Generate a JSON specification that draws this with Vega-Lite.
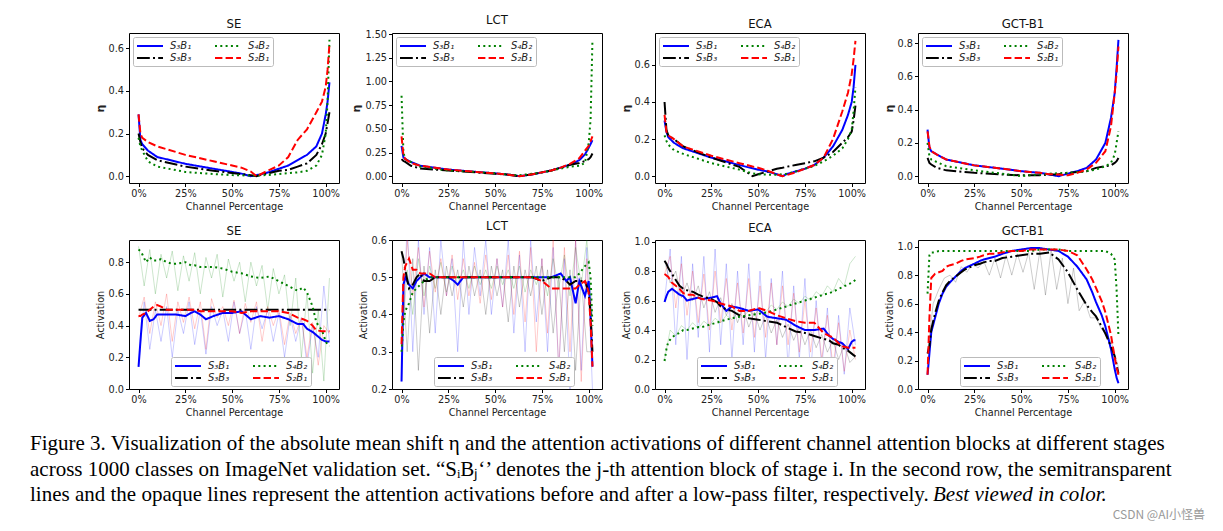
{
"$schema":"https://vega.github.io/schema/vega-lite/v6.json",
"padding":{"left":30,"top":14,"right":5,"bottom":0},
"autosize":{"type":"pad"},
"background":"white",
"config":{
 "font":"DejaVu Sans",
 "view":{"stroke":"#000","strokeWidth":1},
 "axis":{"grid":false,"domain":false,"tickColor":"#000","tickSize":3.5,"labelFontSize":9.7,"labelColor":"#222","titleFontSize":9.7,"titleFontWeight":"normal","titleColor":"#222","labelPadding":2,"titlePadding":3},
 "title":{"fontSize":11.7,"fontWeight":"normal","offset":2,"color":"#111"},
 "legend":{"symbolType":"M-2.6,0L2.6,0","symbolStrokeWidth":2,"symbolSize":100,"symbolOffset":8,"symbolOpacity":1,"labelOffset":14,"labelFontSize":10,"labelFontStyle":"italic","labelColor":"#222","columns":2,"columnPadding":19,"rowPadding":1,"padding":3,"strokeColor":"#bbb","strokeWidth":1,"fillColor":"#fff","cornerRadius":2,"offset":4}
},
"datasets":{
"r1":[
{"p":"SE","x":0,"a":0.29,"b":0.2,"c":0.18,"d":0.29},
{"p":"SE","x":1,"a":0.17,"b":0.16,"c":0.14,"d":0.2},
{"p":"SE","x":2,"a":0.15,"b":0.13,"c":0.12,"d":0.18},
{"p":"SE","x":5,"a":0.12,"b":0.1,"c":0.07,"d":0.16},
{"p":"SE","x":10,"a":0.09,"b":0.075,"c":0.045,"d":0.14},
{"p":"SE","x":25,"a":0.058,"b":0.045,"c":0.02,"d":0.1},
{"p":"SE","x":40,"a":0.035,"b":0.025,"c":0.01,"d":0.07},
{"p":"SE","x":50,"a":0.02,"b":0.015,"c":0.005,"d":0.05},
{"p":"SE","x":55,"a":0.012,"b":0.01,"c":0.004,"d":0.04},
{"p":"SE","x":60,"a":0,"b":0.004,"c":0.003,"d":0.022},
{"p":"SE","x":63,"a":0.005,"b":0,"c":0.003,"d":0},
{"p":"SE","x":65,"a":0.008,"b":0.005,"c":0.004,"d":0.008},
{"p":"SE","x":70,"a":0.02,"b":0.015,"c":0.006,"d":0.03},
{"p":"SE","x":75,"a":0.035,"b":0.025,"c":0.01,"d":0.05},
{"p":"SE","x":80,"a":0.05,"b":0.03,"c":0.014,"d":0.09},
{"p":"SE","x":85,"a":0.075,"b":0.045,"c":0.018,"d":0.17},
{"p":"SE","x":90,"a":0.1,"b":0.06,"c":0.025,"d":0.22},
{"p":"SE","x":95,"a":0.14,"b":0.1,"c":0.05,"d":0.3},
{"p":"SE","x":98,"a":0.2,"b":0.15,"c":0.1,"d":0.35},
{"p":"SE","x":100,"a":0.29,"b":0.2,"c":0.2,"d":0.42},
{"p":"SE","x":101,"a":0.35,"b":0.25,"c":0.35,"d":0.5},
{"p":"SE","x":102,"a":0.44,"b":0.3,"c":0.64,"d":0.62},
{"p":"LCT","x":0,"a":0.32,"b":0.18,"c":0.85,"d":0.42},
{"p":"LCT","x":1,"a":0.2,"b":0.16,"c":0.25,"d":0.22},
{"p":"LCT","x":2,"a":0.18,"b":0.15,"c":0.18,"d":0.18},
{"p":"LCT","x":5,"a":0.15,"b":0.11,"c":0.15,"d":0.14},
{"p":"LCT","x":10,"a":0.11,"b":0.08,"c":0.1,"d":0.11},
{"p":"LCT","x":25,"a":0.07,"b":0.06,"c":0.06,"d":0.07},
{"p":"LCT","x":40,"a":0.045,"b":0.04,"c":0.045,"d":0.045},
{"p":"LCT","x":50,"a":0.03,"b":0.025,"c":0.03,"d":0.03},
{"p":"LCT","x":55,"a":0.02,"b":0.02,"c":0.02,"d":0.02},
{"p":"LCT","x":60,"a":0.01,"b":0.008,"c":0.012,"d":0.008},
{"p":"LCT","x":63,"a":0,"b":0,"c":0.01,"d":0},
{"p":"LCT","x":65,"a":0.005,"b":0.005,"c":0.015,"d":0.005},
{"p":"LCT","x":70,"a":0.02,"b":0.02,"c":0.025,"d":0.02},
{"p":"LCT","x":75,"a":0.04,"b":0.04,"c":0.04,"d":0.04},
{"p":"LCT","x":80,"a":0.06,"b":0.06,"c":0.06,"d":0.06},
{"p":"LCT","x":85,"a":0.09,"b":0.09,"c":0.08,"d":0.09},
{"p":"LCT","x":90,"a":0.12,"b":0.12,"c":0.1,"d":0.13},
{"p":"LCT","x":95,"a":0.17,"b":0.14,"c":0.11,"d":0.19},
{"p":"LCT","x":98,"a":0.23,"b":0.16,"c":0.14,"d":0.27},
{"p":"LCT","x":100,"a":0.3,"b":0.18,"c":0.35,"d":0.32},
{"p":"LCT","x":101,"a":0.34,"b":0.2,"c":0.6,"d":0.37},
{"p":"LCT","x":102,"a":0.38,"b":0.24,"c":1.44,"d":0.42},
{"p":"ECA","x":0,"a":0.3,"b":0.4,"c":0.22,"d":0.33},
{"p":"ECA","x":1,"a":0.24,"b":0.25,"c":0.19,"d":0.24},
{"p":"ECA","x":2,"a":0.21,"b":0.22,"c":0.17,"d":0.22},
{"p":"ECA","x":5,"a":0.18,"b":0.2,"c":0.14,"d":0.2},
{"p":"ECA","x":10,"a":0.15,"b":0.16,"c":0.12,"d":0.16},
{"p":"ECA","x":25,"a":0.1,"b":0.1,"c":0.07,"d":0.11},
{"p":"ECA","x":40,"a":0.06,"b":0.05,"c":0.035,"d":0.07},
{"p":"ECA","x":47,"a":0.042,"b":0.0,"c":0.015,"d":0.052},
{"p":"ECA","x":50,"a":0.035,"b":0.01,"c":0.01,"d":0.045},
{"p":"ECA","x":55,"a":0.025,"b":0.025,"c":0.008,"d":0.03},
{"p":"ECA","x":60,"a":0.01,"b":0.04,"c":0.008,"d":0.01},
{"p":"ECA","x":63,"a":0,"b":0.045,"c":0.01,"d":0},
{"p":"ECA","x":65,"a":0.01,"b":0.05,"c":0.012,"d":0.005},
{"p":"ECA","x":70,"a":0.025,"b":0.06,"c":0.025,"d":0.02},
{"p":"ECA","x":75,"a":0.04,"b":0.07,"c":0.04,"d":0.04},
{"p":"ECA","x":80,"a":0.06,"b":0.08,"c":0.055,"d":0.06},
{"p":"ECA","x":85,"a":0.1,"b":0.1,"c":0.08,"d":0.1},
{"p":"ECA","x":90,"a":0.16,"b":0.13,"c":0.11,"d":0.2},
{"p":"ECA","x":95,"a":0.25,"b":0.18,"c":0.15,"d":0.35},
{"p":"ECA","x":98,"a":0.33,"b":0.21,"c":0.2,"d":0.45},
{"p":"ECA","x":100,"a":0.4,"b":0.24,"c":0.25,"d":0.55},
{"p":"ECA","x":101,"a":0.48,"b":0.3,"c":0.35,"d":0.63},
{"p":"ECA","x":102,"a":0.6,"b":0.38,"c":0.48,"d":0.73},
{"p":"GCT","x":0,"a":0.28,"b":0.11,"c":0.2,"d":0.27},
{"p":"GCT","x":1,"a":0.17,"b":0.08,"c":0.12,"d":0.18},
{"p":"GCT","x":2,"a":0.15,"b":0.07,"c":0.1,"d":0.15},
{"p":"GCT","x":5,"a":0.13,"b":0.05,"c":0.085,"d":0.13},
{"p":"GCT","x":10,"a":0.1,"b":0.035,"c":0.06,"d":0.1},
{"p":"GCT","x":25,"a":0.065,"b":0.02,"c":0.035,"d":0.065},
{"p":"GCT","x":40,"a":0.045,"b":0.01,"c":0.015,"d":0.045},
{"p":"GCT","x":50,"a":0.03,"b":0.005,"c":0,"d":0.03},
{"p":"GCT","x":55,"a":0.025,"b":0.005,"c":0.005,"d":0.025},
{"p":"GCT","x":60,"a":0.02,"b":0.006,"c":0.01,"d":0.02},
{"p":"GCT","x":63,"a":0.015,"b":0.008,"c":0.012,"d":0.015},
{"p":"GCT","x":65,"a":0.01,"b":0.01,"c":0.015,"d":0.012},
{"p":"GCT","x":70,"a":0,"b":0.012,"c":0.018,"d":0.01},
{"p":"GCT","x":75,"a":0.015,"b":0.02,"c":0.02,"d":0.005},
{"p":"GCT","x":80,"a":0.03,"b":0.025,"c":0.025,"d":0.02},
{"p":"GCT","x":85,"a":0.05,"b":0.03,"c":0.03,"d":0.04},
{"p":"GCT","x":90,"a":0.1,"b":0.05,"c":0.04,"d":0.08},
{"p":"GCT","x":95,"a":0.2,"b":0.06,"c":0.06,"d":0.15},
{"p":"GCT","x":98,"a":0.35,"b":0.065,"c":0.08,"d":0.3},
{"p":"GCT","x":100,"a":0.5,"b":0.08,"c":0.13,"d":0.5},
{"p":"GCT","x":101,"a":0.65,"b":0.09,"c":0.2,"d":0.62},
{"p":"GCT","x":102,"a":0.82,"b":0.11,"c":0.27,"d":0.78}
],
"r2":[
{"p":"SE","x":0,"a":0.14,"b":0.5,"c":0.88,"d":0.46},
{"p":"SE","x":1,"a":0.3,"b":0.5,"c":0.87,"d":0.46},
{"p":"SE","x":2,"a":0.45,"b":0.5,"c":0.85,"d":0.47},
{"p":"SE","x":4,"a":0.48,"b":0.5,"c":0.8,"d":0.48},
{"p":"SE","x":6,"a":0.43,"b":0.5,"c":0.83,"d":0.5},
{"p":"SE","x":8,"a":0.44,"b":0.5,"c":0.81,"d":0.52},
{"p":"SE","x":10,"a":0.47,"b":0.5,"c":0.81,"d":0.53},
{"p":"SE","x":12,"a":0.47,"b":0.5,"c":0.82,"d":0.52},
{"p":"SE","x":15,"a":0.47,"b":0.5,"c":0.8,"d":0.5},
{"p":"SE","x":18,"a":0.47,"b":0.5,"c":0.79,"d":0.5},
{"p":"SE","x":20,"a":0.47,"b":0.5,"c":0.79,"d":0.5},
{"p":"SE","x":25,"a":0.46,"b":0.5,"c":0.8,"d":0.5},
{"p":"SE","x":28,"a":0.48,"b":0.5,"c":0.78,"d":0.5},
{"p":"SE","x":30,"a":0.49,"b":0.5,"c":0.78,"d":0.5},
{"p":"SE","x":33,"a":0.47,"b":0.5,"c":0.77,"d":0.49},
{"p":"SE","x":36,"a":0.44,"b":0.5,"c":0.77,"d":0.49},
{"p":"SE","x":40,"a":0.46,"b":0.5,"c":0.77,"d":0.49},
{"p":"SE","x":45,"a":0.48,"b":0.5,"c":0.76,"d":0.49},
{"p":"SE","x":50,"a":0.48,"b":0.5,"c":0.74,"d":0.49},
{"p":"SE","x":55,"a":0.49,"b":0.5,"c":0.73,"d":0.48},
{"p":"SE","x":60,"a":0.44,"b":0.5,"c":0.71,"d":0.49},
{"p":"SE","x":65,"a":0.46,"b":0.5,"c":0.7,"d":0.49},
{"p":"SE","x":70,"a":0.45,"b":0.5,"c":0.71,"d":0.49},
{"p":"SE","x":75,"a":0.46,"b":0.5,"c":0.68,"d":0.49},
{"p":"SE","x":80,"a":0.44,"b":0.5,"c":0.65,"d":0.48},
{"p":"SE","x":85,"a":0.41,"b":0.5,"c":0.62,"d":0.45},
{"p":"SE","x":88,"a":0.41,"b":0.5,"c":0.64,"d":0.44},
{"p":"SE","x":90,"a":0.38,"b":0.5,"c":0.61,"d":0.43},
{"p":"SE","x":93,"a":0.36,"b":0.5,"c":0.52,"d":0.4},
{"p":"SE","x":95,"a":0.34,"b":0.5,"c":0.42,"d":0.37},
{"p":"SE","x":98,"a":0.31,"b":0.5,"c":0.37,"d":0.365},
{"p":"SE","x":100,"a":0.3,"b":0.5,"c":0.3,"d":0.365},
{"p":"SE","x":101,"a":0.3,"b":0.5,"c":0.28,"d":0.365},
{"p":"SE","x":102,"a":0.3,"b":0.5,"c":0.27,"d":0.365},
{"p":"LCT","x":0,"a":0.22,"b":0.57,"c":0.3,"d":0.32},
{"p":"LCT","x":1,"a":0.48,"b":0.55,"c":0.38,"d":0.5},
{"p":"LCT","x":2,"a":0.5,"b":0.52,"c":0.41,"d":0.53},
{"p":"LCT","x":4,"a":0.48,"b":0.47,"c":0.43,"d":0.55},
{"p":"LCT","x":6,"a":0.47,"b":0.48,"c":0.46,"d":0.52},
{"p":"LCT","x":8,"a":0.49,"b":0.5,"c":0.47,"d":0.52},
{"p":"LCT","x":10,"a":0.5,"b":0.51,"c":0.48,"d":0.51},
{"p":"LCT","x":12,"a":0.51,"b":0.49,"c":0.49,"d":0.51},
{"p":"LCT","x":15,"a":0.5,"b":0.49,"c":0.5,"d":0.51},
{"p":"LCT","x":18,"a":0.5,"b":0.5,"c":0.5,"d":0.5},
{"p":"LCT","x":20,"a":0.5,"b":0.5,"c":0.5,"d":0.5},
{"p":"LCT","x":25,"a":0.5,"b":0.5,"c":0.5,"d":0.5},
{"p":"LCT","x":28,"a":0.49,"b":0.5,"c":0.5,"d":0.5},
{"p":"LCT","x":30,"a":0.48,"b":0.5,"c":0.5,"d":0.5},
{"p":"LCT","x":33,"a":0.5,"b":0.5,"c":0.5,"d":0.5},
{"p":"LCT","x":36,"a":0.5,"b":0.5,"c":0.5,"d":0.5},
{"p":"LCT","x":40,"a":0.5,"b":0.5,"c":0.5,"d":0.5},
{"p":"LCT","x":45,"a":0.5,"b":0.5,"c":0.5,"d":0.5},
{"p":"LCT","x":50,"a":0.5,"b":0.5,"c":0.5,"d":0.5},
{"p":"LCT","x":55,"a":0.5,"b":0.5,"c":0.5,"d":0.5},
{"p":"LCT","x":60,"a":0.5,"b":0.5,"c":0.5,"d":0.5},
{"p":"LCT","x":65,"a":0.5,"b":0.5,"c":0.5,"d":0.5},
{"p":"LCT","x":70,"a":0.5,"b":0.5,"c":0.5,"d":0.5},
{"p":"LCT","x":75,"a":0.5,"b":0.49,"c":0.5,"d":0.49},
{"p":"LCT","x":80,"a":0.5,"b":0.5,"c":0.5,"d":0.47},
{"p":"LCT","x":85,"a":0.51,"b":0.5,"c":0.5,"d":0.47},
{"p":"LCT","x":88,"a":0.49,"b":0.49,"c":0.5,"d":0.47},
{"p":"LCT","x":90,"a":0.5,"b":0.48,"c":0.5,"d":0.47},
{"p":"LCT","x":93,"a":0.43,"b":0.49,"c":0.5,"d":0.47},
{"p":"LCT","x":95,"a":0.49,"b":0.49,"c":0.51,"d":0.48},
{"p":"LCT","x":98,"a":0.45,"b":0.49,"c":0.53,"d":0.49},
{"p":"LCT","x":100,"a":0.49,"b":0.46,"c":0.54,"d":0.46},
{"p":"LCT","x":101,"a":0.4,"b":0.4,"c":0.5,"d":0.38},
{"p":"LCT","x":102,"a":0.26,"b":0.3,"c":0.37,"d":0.26},
{"p":"ECA","x":0,"a":0.59,"b":0.87,"c":0.19,"d":0.78},
{"p":"ECA","x":1,"a":0.63,"b":0.85,"c":0.27,"d":0.77},
{"p":"ECA","x":2,"a":0.66,"b":0.82,"c":0.32,"d":0.76},
{"p":"ECA","x":4,"a":0.68,"b":0.78,"c":0.35,"d":0.72},
{"p":"ECA","x":6,"a":0.66,"b":0.74,"c":0.37,"d":0.7},
{"p":"ECA","x":8,"a":0.64,"b":0.7,"c":0.38,"d":0.68},
{"p":"ECA","x":10,"a":0.63,"b":0.68,"c":0.4,"d":0.65},
{"p":"ECA","x":12,"a":0.6,"b":0.67,"c":0.4,"d":0.64},
{"p":"ECA","x":15,"a":0.61,"b":0.66,"c":0.41,"d":0.64},
{"p":"ECA","x":18,"a":0.62,"b":0.64,"c":0.42,"d":0.62},
{"p":"ECA","x":20,"a":0.61,"b":0.63,"c":0.42,"d":0.61},
{"p":"ECA","x":25,"a":0.62,"b":0.61,"c":0.44,"d":0.6},
{"p":"ECA","x":28,"a":0.63,"b":0.59,"c":0.45,"d":0.59},
{"p":"ECA","x":30,"a":0.58,"b":0.56,"c":0.46,"d":0.58},
{"p":"ECA","x":33,"a":0.53,"b":0.54,"c":0.47,"d":0.57},
{"p":"ECA","x":36,"a":0.56,"b":0.53,"c":0.48,"d":0.56},
{"p":"ECA","x":40,"a":0.55,"b":0.5,"c":0.49,"d":0.53},
{"p":"ECA","x":45,"a":0.53,"b":0.48,"c":0.5,"d":0.53},
{"p":"ECA","x":50,"a":0.54,"b":0.47,"c":0.51,"d":0.55},
{"p":"ECA","x":55,"a":0.49,"b":0.46,"c":0.52,"d":0.53},
{"p":"ECA","x":60,"a":0.48,"b":0.45,"c":0.54,"d":0.5},
{"p":"ECA","x":65,"a":0.47,"b":0.42,"c":0.56,"d":0.48},
{"p":"ECA","x":70,"a":0.43,"b":0.39,"c":0.58,"d":0.46},
{"p":"ECA","x":75,"a":0.4,"b":0.38,"c":0.6,"d":0.45},
{"p":"ECA","x":80,"a":0.4,"b":0.36,"c":0.62,"d":0.45},
{"p":"ECA","x":85,"a":0.41,"b":0.34,"c":0.64,"d":0.38},
{"p":"ECA","x":88,"a":0.36,"b":0.33,"c":0.65,"d":0.36},
{"p":"ECA","x":90,"a":0.34,"b":0.31,"c":0.66,"d":0.35},
{"p":"ECA","x":93,"a":0.32,"b":0.3,"c":0.68,"d":0.31},
{"p":"ECA","x":95,"a":0.31,"b":0.28,"c":0.69,"d":0.29},
{"p":"ECA","x":98,"a":0.27,"b":0.26,"c":0.71,"d":0.28},
{"p":"ECA","x":100,"a":0.32,"b":0.24,"c":0.72,"d":0.28},
{"p":"ECA","x":101,"a":0.33,"b":0.23,"c":0.73,"d":0.28},
{"p":"ECA","x":102,"a":0.33,"b":0.22,"c":0.74,"d":0.28},
{"p":"GCT","x":0,"a":0.1,"b":0.25,"c":0.67,"d":0.1},
{"p":"GCT","x":1,"a":0.25,"b":0.3,"c":0.94,"d":0.5},
{"p":"GCT","x":2,"a":0.4,"b":0.42,"c":0.96,"d":0.78},
{"p":"GCT","x":4,"a":0.5,"b":0.53,"c":0.96,"d":0.81},
{"p":"GCT","x":6,"a":0.6,"b":0.62,"c":0.97,"d":0.82},
{"p":"GCT","x":8,"a":0.67,"b":0.68,"c":0.97,"d":0.83},
{"p":"GCT","x":10,"a":0.72,"b":0.73,"c":0.97,"d":0.86},
{"p":"GCT","x":12,"a":0.75,"b":0.76,"c":0.97,"d":0.87},
{"p":"GCT","x":15,"a":0.79,"b":0.79,"c":0.97,"d":0.88},
{"p":"GCT","x":18,"a":0.83,"b":0.82,"c":0.97,"d":0.9},
{"p":"GCT","x":20,"a":0.85,"b":0.84,"c":0.97,"d":0.91},
{"p":"GCT","x":25,"a":0.88,"b":0.87,"c":0.97,"d":0.92},
{"p":"GCT","x":28,"a":0.9,"b":0.88,"c":0.97,"d":0.93},
{"p":"GCT","x":30,"a":0.91,"b":0.89,"c":0.97,"d":0.94},
{"p":"GCT","x":33,"a":0.92,"b":0.9,"c":0.97,"d":0.95},
{"p":"GCT","x":36,"a":0.93,"b":0.9,"c":0.97,"d":0.95},
{"p":"GCT","x":40,"a":0.95,"b":0.92,"c":0.97,"d":0.96},
{"p":"GCT","x":45,"a":0.97,"b":0.93,"c":0.97,"d":0.97},
{"p":"GCT","x":50,"a":0.98,"b":0.94,"c":0.97,"d":0.97},
{"p":"GCT","x":55,"a":0.99,"b":0.95,"c":0.97,"d":0.98},
{"p":"GCT","x":60,"a":0.99,"b":0.95,"c":0.98,"d":0.98},
{"p":"GCT","x":65,"a":0.98,"b":0.96,"c":0.98,"d":0.98},
{"p":"GCT","x":70,"a":0.97,"b":0.91,"c":0.98,"d":0.98},
{"p":"GCT","x":75,"a":0.93,"b":0.82,"c":0.97,"d":0.97},
{"p":"GCT","x":80,"a":0.86,"b":0.7,"c":0.97,"d":0.94},
{"p":"GCT","x":85,"a":0.77,"b":0.59,"c":0.97,"d":0.84},
{"p":"GCT","x":88,"a":0.68,"b":0.54,"c":0.97,"d":0.77},
{"p":"GCT","x":90,"a":0.61,"b":0.51,"c":0.97,"d":0.71},
{"p":"GCT","x":93,"a":0.52,"b":0.44,"c":0.97,"d":0.62},
{"p":"GCT","x":95,"a":0.44,"b":0.39,"c":0.97,"d":0.54},
{"p":"GCT","x":98,"a":0.28,"b":0.3,"c":0.95,"d":0.38},
{"p":"GCT","x":100,"a":0.14,"b":0.23,"c":0.91,"d":0.22},
{"p":"GCT","x":101,"a":0.08,"b":0.17,"c":0.7,"d":0.15},
{"p":"GCT","x":102,"a":0.04,"b":0.11,"c":0.37,"d":0.1}
],
"raw":[
{"p":"SE","x":0,"a":0.14,"c":0.9,"d":0.45},
{"p":"SE","x":3,"a":0.55,"c":0.65,"d":0.58},
{"p":"SE","x":6,"a":0.25,"c":0.88,"d":0.35},
{"p":"SE","x":9,"a":0.5,"c":0.6,"d":0.55},
{"p":"SE","x":12,"a":0.3,"c":0.85,"d":0.4},
{"p":"SE","x":15,"a":0.52,"c":0.7,"d":0.6},
{"p":"SE","x":18,"a":0.2,"c":0.87,"d":0.3},
{"p":"SE","x":21,"a":0.5,"c":0.62,"d":0.55},
{"p":"SE","x":24,"a":0.35,"c":0.84,"d":0.42},
{"p":"SE","x":27,"a":0.55,"c":0.68,"d":0.58},
{"p":"SE","x":30,"a":0.28,"c":0.86,"d":0.38},
{"p":"SE","x":33,"a":0.5,"c":0.6,"d":0.55},
{"p":"SE","x":36,"a":0.22,"c":0.83,"d":0.25},
{"p":"SE","x":39,"a":0.52,"c":0.7,"d":0.57},
{"p":"SE","x":42,"a":0.4,"c":0.85,"d":0.45},
{"p":"SE","x":45,"a":0.5,"c":0.58,"d":0.52},
{"p":"SE","x":48,"a":0.3,"c":0.82,"d":0.4},
{"p":"SE","x":51,"a":0.55,"c":0.68,"d":0.56},
{"p":"SE","x":54,"a":0.35,"c":0.8,"d":0.35},
{"p":"SE","x":57,"a":0.5,"c":0.55,"d":0.54},
{"p":"SE","x":60,"a":0.25,"c":0.8,"d":0.42},
{"p":"SE","x":63,"a":0.52,"c":0.65,"d":0.55},
{"p":"SE","x":66,"a":0.38,"c":0.78,"d":0.3},
{"p":"SE","x":69,"a":0.5,"c":0.5,"d":0.52},
{"p":"SE","x":72,"a":0.3,"c":0.76,"d":0.4},
{"p":"SE","x":75,"a":0.48,"c":0.6,"d":0.5},
{"p":"SE","x":78,"a":0.2,"c":0.72,"d":0.28},
{"p":"SE","x":81,"a":0.46,"c":0.4,"d":0.48},
{"p":"SE","x":84,"a":0.3,"c":0.7,"d":0.35},
{"p":"SE","x":87,"a":0.45,"c":0.2,"d":0.45},
{"p":"SE","x":90,"a":0.15,"c":0.6,"d":0.2},
{"p":"SE","x":93,"a":0.4,"c":0.1,"d":0.42},
{"p":"SE","x":96,"a":0.2,"c":0.5,"d":0.15},
{"p":"SE","x":99,"a":0.65,"c":0.05,"d":0.4},
{"p":"SE","x":102,"a":0.3,"c":0.7,"d":0.35},
{"p":"LCT","x":0,"a":0.22,"b":0.57,"c":0.3,"d":0.32},
{"p":"LCT","x":3,"a":0.65,"b":0.3,"c":0.52,"d":0.6},
{"p":"LCT","x":6,"a":0.3,"b":0.55,"c":0.4,"d":0.45},
{"p":"LCT","x":9,"a":0.6,"b":0.25,"c":0.55,"d":0.58},
{"p":"LCT","x":12,"a":0.4,"b":0.53,"c":0.45,"d":0.42},
{"p":"LCT","x":15,"a":0.58,"b":0.35,"c":0.53,"d":0.57},
{"p":"LCT","x":18,"a":0.35,"b":0.52,"c":0.47,"d":0.46},
{"p":"LCT","x":21,"a":0.6,"b":0.4,"c":0.54,"d":0.55},
{"p":"LCT","x":24,"a":0.45,"b":0.53,"c":0.46,"d":0.45},
{"p":"LCT","x":27,"a":0.55,"b":0.45,"c":0.53,"d":0.56},
{"p":"LCT","x":30,"a":0.3,"b":0.52,"c":0.48,"d":0.44},
{"p":"LCT","x":33,"a":0.6,"b":0.42,"c":0.52,"d":0.55},
{"p":"LCT","x":36,"a":0.4,"b":0.53,"c":0.47,"d":0.45},
{"p":"LCT","x":39,"a":0.58,"b":0.45,"c":0.53,"d":0.54},
{"p":"LCT","x":42,"a":0.45,"b":0.52,"c":0.48,"d":0.43},
{"p":"LCT","x":45,"a":0.6,"b":0.4,"c":0.52,"d":0.56},
{"p":"LCT","x":48,"a":0.4,"b":0.53,"c":0.47,"d":0.44},
{"p":"LCT","x":51,"a":0.55,"b":0.45,"c":0.53,"d":0.55},
{"p":"LCT","x":54,"a":0.42,"b":0.52,"c":0.48,"d":0.42},
{"p":"LCT","x":57,"a":0.6,"b":0.38,"c":0.52,"d":0.56},
{"p":"LCT","x":60,"a":0.35,"b":0.53,"c":0.47,"d":0.4},
{"p":"LCT","x":63,"a":0.56,"b":0.42,"c":0.53,"d":0.57},
{"p":"LCT","x":66,"a":0.3,"b":0.52,"c":0.46,"d":0.38},
{"p":"LCT","x":69,"a":0.6,"b":0.45,"c":0.52,"d":0.58},
{"p":"LCT","x":72,"a":0.38,"b":0.53,"c":0.48,"d":0.3},
{"p":"LCT","x":75,"a":0.55,"b":0.4,"c":0.53,"d":0.55},
{"p":"LCT","x":78,"a":0.3,"b":0.52,"c":0.45,"d":0.35},
{"p":"LCT","x":81,"a":0.58,"b":0.35,"c":0.55,"d":0.6},
{"p":"LCT","x":84,"a":0.25,"b":0.5,"c":0.47,"d":0.25},
{"p":"LCT","x":87,"a":0.55,"b":0.3,"c":0.56,"d":0.58},
{"p":"LCT","x":90,"a":0.2,"b":0.52,"c":0.45,"d":0.3},
{"p":"LCT","x":93,"a":0.6,"b":0.25,"c":0.58,"d":0.6},
{"p":"LCT","x":96,"a":0.25,"b":0.5,"c":0.48,"d":0.22},
{"p":"LCT","x":99,"a":0.58,"b":0.3,"c":0.6,"d":0.55},
{"p":"LCT","x":102,"a":0.2,"b":0.3,"c":0.4,"d":0.26},
{"p":"ECA","x":0,"a":0.6,"b":0.87,"c":0.2,"d":0.78},
{"p":"ECA","x":3,"a":0.95,"b":0.72,"c":0.4,"d":0.9},
{"p":"ECA","x":6,"a":0.3,"b":0.8,"c":0.36,"d":0.55},
{"p":"ECA","x":9,"a":0.9,"b":0.62,"c":0.43,"d":0.85},
{"p":"ECA","x":12,"a":0.2,"b":0.72,"c":0.4,"d":0.5},
{"p":"ECA","x":15,"a":0.85,"b":0.6,"c":0.45,"d":0.8},
{"p":"ECA","x":18,"a":0.35,"b":0.7,"c":0.41,"d":0.45},
{"p":"ECA","x":21,"a":0.9,"b":0.55,"c":0.46,"d":0.78},
{"p":"ECA","x":24,"a":0.25,"b":0.66,"c":0.43,"d":0.4},
{"p":"ECA","x":27,"a":0.95,"b":0.52,"c":0.48,"d":0.8},
{"p":"ECA","x":30,"a":0.3,"b":0.62,"c":0.45,"d":0.45},
{"p":"ECA","x":33,"a":0.85,"b":0.5,"c":0.5,"d":0.75},
{"p":"ECA","x":36,"a":0.2,"b":0.58,"c":0.47,"d":0.4},
{"p":"ECA","x":39,"a":0.8,"b":0.45,"c":0.52,"d":0.72},
{"p":"ECA","x":42,"a":0.3,"b":0.55,"c":0.49,"d":0.38},
{"p":"ECA","x":45,"a":0.85,"b":0.42,"c":0.53,"d":0.75},
{"p":"ECA","x":48,"a":0.25,"b":0.52,"c":0.5,"d":0.35},
{"p":"ECA","x":51,"a":0.8,"b":0.4,"c":0.55,"d":0.7},
{"p":"ECA","x":54,"a":0.2,"b":0.5,"c":0.52,"d":0.35},
{"p":"ECA","x":57,"a":0.75,"b":0.38,"c":0.57,"d":0.72},
{"p":"ECA","x":60,"a":0.3,"b":0.47,"c":0.54,"d":0.3},
{"p":"ECA","x":63,"a":0.8,"b":0.35,"c":0.59,"d":0.7},
{"p":"ECA","x":66,"a":0.15,"b":0.44,"c":0.56,"d":0.3},
{"p":"ECA","x":69,"a":0.7,"b":0.33,"c":0.61,"d":0.65},
{"p":"ECA","x":72,"a":0.2,"b":0.42,"c":0.58,"d":0.25},
{"p":"ECA","x":75,"a":0.75,"b":0.3,"c":0.63,"d":0.6},
{"p":"ECA","x":78,"a":0.1,"b":0.4,"c":0.6,"d":0.25},
{"p":"ECA","x":81,"a":0.6,"b":0.28,"c":0.66,"d":0.55},
{"p":"ECA","x":84,"a":0.15,"b":0.37,"c":0.63,"d":0.2},
{"p":"ECA","x":87,"a":0.55,"b":0.25,"c":0.7,"d":0.5},
{"p":"ECA","x":90,"a":0.05,"b":0.33,"c":0.66,"d":0.15},
{"p":"ECA","x":93,"a":0.5,"b":0.2,"c":0.75,"d":0.45},
{"p":"ECA","x":96,"a":0.1,"b":0.3,"c":0.7,"d":0.12},
{"p":"ECA","x":99,"a":0.55,"b":0.18,"c":0.85,"d":0.4},
{"p":"ECA","x":102,"a":0.3,"b":0.22,"c":0.9,"d":0.2},
{"p":"GCT","x":0,"b":0.25},
{"p":"GCT","x":3,"b":0.6},
{"p":"GCT","x":6,"b":0.7},
{"p":"GCT","x":9,"b":0.78},
{"p":"GCT","x":12,"b":0.8},
{"p":"GCT","x":15,"b":0.75},
{"p":"GCT","x":18,"b":0.86},
{"p":"GCT","x":21,"b":0.82},
{"p":"GCT","x":24,"b":0.88},
{"p":"GCT","x":27,"b":0.85},
{"p":"GCT","x":30,"b":0.9},
{"p":"GCT","x":33,"b":0.8},
{"p":"GCT","x":36,"b":0.92},
{"p":"GCT","x":39,"b":0.78},
{"p":"GCT","x":42,"b":0.94},
{"p":"GCT","x":45,"b":0.8},
{"p":"GCT","x":48,"b":0.95},
{"p":"GCT","x":51,"b":0.82},
{"p":"GCT","x":54,"b":0.96},
{"p":"GCT","x":57,"b":0.7},
{"p":"GCT","x":60,"b":0.97},
{"p":"GCT","x":63,"b":0.66},
{"p":"GCT","x":66,"b":0.97},
{"p":"GCT","x":69,"b":0.7},
{"p":"GCT","x":72,"b":0.92},
{"p":"GCT","x":75,"b":0.6},
{"p":"GCT","x":78,"b":0.85},
{"p":"GCT","x":81,"b":0.55},
{"p":"GCT","x":84,"b":0.62},
{"p":"GCT","x":87,"b":0.5},
{"p":"GCT","x":90,"b":0.5},
{"p":"GCT","x":93,"b":0.42},
{"p":"GCT","x":96,"b":0.38},
{"p":"GCT","x":99,"b":0.3},
{"p":"GCT","x":102,"b":0.15}
],
"cap":[
{"line":1,"k":"n","t":"Figure 3. Visualization of the absolute mean shift η and the attention activations of different channel attention blocks at different stages"},
{"line":2,"k":"n","t":"across 1000 classes on ImageNet validation set. “SᵢBⱼ‘’ denotes the j-th attention block of stage i. In the second row, the semitransparent"},
{"line":3,"k":"n","t":"lines and the opaque lines represent the attention activations before and after a low-pass filter, respectively."},
{"line":3,"k":"i","t":"Best viewed in color."},
{"line":4,"k":"w","t":"CSDN @AI小怪兽"}
]
},
"resolve":{"scale":{"color":"independent","strokeDash":"independent"},"legend":{"color":"independent","strokeDash":"independent"}},
"bounds":"flush",
"columns":4,
"spacing":{"row":57,"column":53},
"concat":[
  {"title":"SE","width":210,"height":150,"data":{"name":"r1"},
   "transform":[{"filter":"datum.p=='SE'"},{"fold":["a","b","c","d"],"as":["s","v"]}],
   "mark":{"type":"line","strokeWidth":2,"clip":true},
   "encoding":{
    "x":{"field":"x","type":"quantitative","scale":{"domain":[-5.1,107.1],"nice":false,"zero":false},"axis":{"values":[0,25,50,75,100],"labelExpr":"datum.value+'%'","title":"Channel Percentage"}},
    "y":{"field":"v","type":"quantitative","scale":{"domain":[-0.032,0.672],"nice":false,"zero":false},"axis":{"values":[0,0.2,0.4,0.6],"format":".1f","title":"η","titleFontWeight":"bold","titleFontSize":11}},
    "color":{"field":"s","type":"nominal","scale":{"domain":["a","c","b","d"],"range":["#0000ff","#008000","#000000","#ff0000"]},"legend":{"title":null,"orient":"top-left","values":["a","b","c","d"],"labelExpr":"datum.label=='a'?'S₃B₁':datum.label=='b'?'S₃B₃':datum.label=='c'?'S₄B₂':'S₂B₁'"}},
    "strokeDash":{"field":"s","type":"nominal","scale":{"domain":["a","c","b","d"],"range":[[1,0],[2,3.3],[12.8,3.2,2,3.2],[7.4,3.2]]},"legend":{"title":null,"orient":"top-left","values":["a","b","c","d"],"labelExpr":"datum.label=='a'?'S₃B₁':datum.label=='b'?'S₃B₃':datum.label=='c'?'S₄B₂':'S₂B₁'"}}
   }},
  {"title":"LCT","width":210,"height":150,"data":{"name":"r1"},
   "transform":[{"filter":"datum.p=='LCT'"},{"fold":["a","b","c","d"],"as":["s","v"]}],
   "mark":{"type":"line","strokeWidth":2,"clip":true},
   "encoding":{
    "x":{"field":"x","type":"quantitative","scale":{"domain":[-5.1,107.1],"nice":false,"zero":false},"axis":{"values":[0,25,50,75,100],"labelExpr":"datum.value+'%'","title":"Channel Percentage"}},
    "y":{"field":"v","type":"quantitative","scale":{"domain":[-0.072,1.512],"nice":false,"zero":false},"axis":{"values":[0,0.25,0.5,0.75,1,1.25,1.5],"format":".2f","title":"η","titleFontWeight":"bold","titleFontSize":11}},
    "color":{"field":"s","type":"nominal","scale":{"domain":["a","c","b","d"],"range":["#0000ff","#008000","#000000","#ff0000"]},"legend":{"title":null,"orient":"top-left","values":["a","b","c","d"],"labelExpr":"datum.label=='a'?'S₃B₁':datum.label=='b'?'S₃B₃':datum.label=='c'?'S₄B₂':'S₂B₁'"}},
    "strokeDash":{"field":"s","type":"nominal","scale":{"domain":["a","c","b","d"],"range":[[1,0],[2,3.3],[12.8,3.2,2,3.2],[7.4,3.2]]},"legend":{"title":null,"orient":"top-left","values":["a","b","c","d"],"labelExpr":"datum.label=='a'?'S₃B₁':datum.label=='b'?'S₃B₃':datum.label=='c'?'S₄B₂':'S₂B₁'"}}
   }},
  {"title":"ECA","width":210,"height":150,"data":{"name":"r1"},
   "transform":[{"filter":"datum.p=='ECA'"},{"fold":["a","b","c","d"],"as":["s","v"]}],
   "mark":{"type":"line","strokeWidth":2,"clip":true},
   "encoding":{
    "x":{"field":"x","type":"quantitative","scale":{"domain":[-5.1,107.1],"nice":false,"zero":false},"axis":{"values":[0,25,50,75,100],"labelExpr":"datum.value+'%'","title":"Channel Percentage"}},
    "y":{"field":"v","type":"quantitative","scale":{"domain":[-0.037,0.772],"nice":false,"zero":false},"axis":{"values":[0,0.2,0.4,0.6],"format":".1f","title":"η","titleFontWeight":"bold","titleFontSize":11}},
    "color":{"field":"s","type":"nominal","scale":{"domain":["a","c","b","d"],"range":["#0000ff","#008000","#000000","#ff0000"]},"legend":{"title":null,"orient":"top-left","values":["a","b","c","d"],"labelExpr":"datum.label=='a'?'S₃B₁':datum.label=='b'?'S₃B₃':datum.label=='c'?'S₄B₂':'S₂B₁'"}},
    "strokeDash":{"field":"s","type":"nominal","scale":{"domain":["a","c","b","d"],"range":[[1,0],[2,3.3],[12.8,3.2,2,3.2],[7.4,3.2]]},"legend":{"title":null,"orient":"top-left","values":["a","b","c","d"],"labelExpr":"datum.label=='a'?'S₃B₁':datum.label=='b'?'S₃B₃':datum.label=='c'?'S₄B₂':'S₂B₁'"}}
   }},
  {"title":"GCT-B1","width":210,"height":150,"data":{"name":"r1"},
   "transform":[{"filter":"datum.p=='GCT'"},{"fold":["a","b","c","d"],"as":["s","v"]}],
   "mark":{"type":"line","strokeWidth":2,"clip":true},
   "encoding":{
    "x":{"field":"x","type":"quantitative","scale":{"domain":[-5.1,107.1],"nice":false,"zero":false},"axis":{"values":[0,25,50,75,100],"labelExpr":"datum.value+'%'","title":"Channel Percentage"}},
    "y":{"field":"v","type":"quantitative","scale":{"domain":[-0.041,0.861],"nice":false,"zero":false},"axis":{"values":[0,0.2,0.4,0.6,0.8],"format":".1f","title":"η","titleFontWeight":"bold","titleFontSize":11}},
    "color":{"field":"s","type":"nominal","scale":{"domain":["a","c","b","d"],"range":["#0000ff","#008000","#000000","#ff0000"]},"legend":{"title":null,"orient":"top-left","values":["a","b","c","d"],"labelExpr":"datum.label=='a'?'S₃B₁':datum.label=='b'?'S₃B₃':datum.label=='c'?'S₄B₂':'S₂B₁'"}},
    "strokeDash":{"field":"s","type":"nominal","scale":{"domain":["a","c","b","d"],"range":[[1,0],[2,3.3],[12.8,3.2,2,3.2],[7.4,3.2]]},"legend":{"title":null,"orient":"top-left","values":["a","b","c","d"],"labelExpr":"datum.label=='a'?'S₃B₁':datum.label=='b'?'S₃B₃':datum.label=='c'?'S₄B₂':'S₂B₁'"}}
   }},
  {"title":"SE","width":210,"height":149,
   "encoding":{
    "x":{"field":"x","type":"quantitative","scale":{"domain":[-5.1,107.1],"nice":false,"zero":false},"axis":{"values":[0,25,50,75,100],"labelExpr":"datum.value+'%'","title":"Channel Percentage"}},
    "y":{"field":"v","type":"quantitative","scale":{"domain":[0,0.94],"nice":false,"zero":false},"axis":{"values":[0,0.2,0.4,0.6,0.8],"format":".1f","title":"Activation"}},
    "color":{"field":"s","type":"nominal","scale":{"domain":["a","c","b","d"],"range":["#0000ff","#008000","#000000","#ff0000"]},"legend":{"title":null,"orient":"none","legendX":42,"legendY":117,"symbolOpacity":1,"values":["a","b","c","d"],"labelExpr":"datum.label=='a'?'S₃B₁':datum.label=='b'?'S₃B₃':datum.label=='c'?'S₄B₂':'S₂B₁'"}}
   },
   "layer":[
    {"data":{"name":"raw"},"transform":[{"filter":"datum.p=='SE'"},{"fold":["a","b","c","d"],"as":["s","v"]},{"filter":"isValid(datum.v)"}],
     "mark":{"type":"line","strokeWidth":1,"strokeOpacity":0.2,"clip":true}},
    {"data":{"name":"r2"},"transform":[{"filter":"datum.p=='SE'"},{"fold":["a","b","c","d"],"as":["s","v"]}],
     "mark":{"type":"line","strokeWidth":2,"clip":true},
     "encoding":{
      "strokeDash":{"field":"s","type":"nominal","scale":{"domain":["a","c","b","d"],"range":[[1,0],[2,3.3],[12.8,3.2,2,3.2],[7.4,3.2]]},"legend":{"title":null,"orient":"none","legendX":42,"legendY":117,"symbolOpacity":1,"values":["a","b","c","d"],"labelExpr":"datum.label=='a'?'S₃B₁':datum.label=='b'?'S₃B₃':datum.label=='c'?'S₄B₂':'S₂B₁'"}}
     }}
   ]},
  {"title":"LCT","width":210,"height":149,
   "encoding":{
    "x":{"field":"x","type":"quantitative","scale":{"domain":[-5.1,107.1],"nice":false,"zero":false},"axis":{"values":[0,25,50,75,100],"labelExpr":"datum.value+'%'","title":"Channel Percentage"}},
    "y":{"field":"v","type":"quantitative","scale":{"domain":[0.2,0.6],"nice":false,"zero":false},"axis":{"values":[0.2,0.3,0.4,0.5,0.6],"format":".1f","title":"Activation"}},
    "color":{"field":"s","type":"nominal","scale":{"domain":["a","c","b","d"],"range":["#0000ff","#008000","#000000","#ff0000"]},"legend":{"title":null,"orient":"none","legendX":42,"legendY":117,"symbolOpacity":1,"values":["a","b","c","d"],"labelExpr":"datum.label=='a'?'S₃B₁':datum.label=='b'?'S₃B₃':datum.label=='c'?'S₄B₂':'S₂B₁'"}}
   },
   "layer":[
    {"data":{"name":"raw"},"transform":[{"filter":"datum.p=='LCT'"},{"fold":["a","b","c","d"],"as":["s","v"]},{"filter":"isValid(datum.v)"}],
     "mark":{"type":"line","strokeWidth":1,"strokeOpacity":0.2,"clip":true}},
    {"data":{"name":"r2"},"transform":[{"filter":"datum.p=='LCT'"},{"fold":["a","b","c","d"],"as":["s","v"]}],
     "mark":{"type":"line","strokeWidth":2,"clip":true},
     "encoding":{
      "strokeDash":{"field":"s","type":"nominal","scale":{"domain":["a","c","b","d"],"range":[[1,0],[2,3.3],[12.8,3.2,2,3.2],[7.4,3.2]]},"legend":{"title":null,"orient":"none","legendX":42,"legendY":117,"symbolOpacity":1,"values":["a","b","c","d"],"labelExpr":"datum.label=='a'?'S₃B₁':datum.label=='b'?'S₃B₃':datum.label=='c'?'S₄B₂':'S₂B₁'"}}
     }}
   ]},
  {"title":"ECA","width":210,"height":149,
   "encoding":{
    "x":{"field":"x","type":"quantitative","scale":{"domain":[-5.1,107.1],"nice":false,"zero":false},"axis":{"values":[0,25,50,75,100],"labelExpr":"datum.value+'%'","title":"Channel Percentage"}},
    "y":{"field":"v","type":"quantitative","scale":{"domain":[0,1.011],"nice":false,"zero":false},"axis":{"values":[0,0.2,0.4,0.6,0.8,1],"format":".1f","title":"Activation"}},
    "color":{"field":"s","type":"nominal","scale":{"domain":["a","c","b","d"],"range":["#0000ff","#008000","#000000","#ff0000"]},"legend":{"title":null,"orient":"none","legendX":42,"legendY":117,"symbolOpacity":1,"values":["a","b","c","d"],"labelExpr":"datum.label=='a'?'S₃B₁':datum.label=='b'?'S₃B₃':datum.label=='c'?'S₄B₂':'S₂B₁'"}}
   },
   "layer":[
    {"data":{"name":"raw"},"transform":[{"filter":"datum.p=='ECA'"},{"fold":["a","b","c","d"],"as":["s","v"]},{"filter":"isValid(datum.v)"}],
     "mark":{"type":"line","strokeWidth":1,"strokeOpacity":0.2,"clip":true}},
    {"data":{"name":"r2"},"transform":[{"filter":"datum.p=='ECA'"},{"fold":["a","b","c","d"],"as":["s","v"]}],
     "mark":{"type":"line","strokeWidth":2,"clip":true},
     "encoding":{
      "strokeDash":{"field":"s","type":"nominal","scale":{"domain":["a","c","b","d"],"range":[[1,0],[2,3.3],[12.8,3.2,2,3.2],[7.4,3.2]]},"legend":{"title":null,"orient":"none","legendX":42,"legendY":117,"symbolOpacity":1,"values":["a","b","c","d"],"labelExpr":"datum.label=='a'?'S₃B₁':datum.label=='b'?'S₃B₃':datum.label=='c'?'S₄B₂':'S₂B₁'"}}
     }}
   ]},
  {"title":"GCT-B1","width":210,"height":149,
   "encoding":{
    "x":{"field":"x","type":"quantitative","scale":{"domain":[-5.1,107.1],"nice":false,"zero":false},"axis":{"values":[0,25,50,75,100],"labelExpr":"datum.value+'%'","title":"Channel Percentage"}},
    "y":{"field":"v","type":"quantitative","scale":{"domain":[0,1.047],"nice":false,"zero":false},"axis":{"values":[0,0.2,0.4,0.6,0.8,1],"format":".1f","title":"Activation"}},
    "color":{"field":"s","type":"nominal","scale":{"domain":["a","c","b","d"],"range":["#0000ff","#008000","#000000","#ff0000"]},"legend":{"title":null,"orient":"none","legendX":42,"legendY":117,"symbolOpacity":1,"values":["a","b","c","d"],"labelExpr":"datum.label=='a'?'S₃B₁':datum.label=='b'?'S₃B₃':datum.label=='c'?'S₄B₂':'S₂B₁'"}}
   },
   "layer":[
    {"data":{"name":"raw"},"transform":[{"filter":"datum.p=='GCT'"},{"fold":["a","b","c","d"],"as":["s","v"]},{"filter":"isValid(datum.v)"}],
     "mark":{"type":"line","strokeWidth":1,"strokeOpacity":0.2,"clip":true}},
    {"data":{"name":"r2"},"transform":[{"filter":"datum.p=='GCT'"},{"fold":["a","b","c","d"],"as":["s","v"]}],
     "mark":{"type":"line","strokeWidth":2,"clip":true},
     "encoding":{
      "strokeDash":{"field":"s","type":"nominal","scale":{"domain":["a","c","b","d"],"range":[[1,0],[2,3.3],[12.8,3.2,2,3.2],[7.4,3.2]]},"legend":{"title":null,"orient":"none","legendX":42,"legendY":117,"symbolOpacity":1,"values":["a","b","c","d"],"labelExpr":"datum.label=='a'?'S₃B₁':datum.label=='b'?'S₃B₃':datum.label=='c'?'S₄B₂':'S₂B₁'"}}
     }}
   ]},
  {"width":210,"height":102,"data":{"name":"cap"},"view":{"stroke":null},
   "encoding":{"y":{"field":"line","type":"ordinal","scale":{"domain":[1,2,3,4],"paddingInner":0,"paddingOuter":0},"axis":null}},
   "layer":[
    {"transform":[{"filter":"datum.k=='n'"}],"mark":{"type":"text","align":"left","baseline":"middle","font":"Liberation Serif","fontSize":21,"color":"#000","dy":-14.5},"encoding":{"x":{"value":-99},"text":{"field":"t"}}},
    {"transform":[{"filter":"datum.k=='i'"}],"mark":{"type":"text","align":"left","baseline":"middle","font":"Liberation Serif","fontSize":21,"fontStyle":"italic","color":"#000","dy":-14.5},"encoding":{"x":{"value":804},"text":{"field":"t"}}},
    {"transform":[{"filter":"datum.k=='w'"}],"mark":{"type":"text","align":"right","baseline":"middle","font":"Noto Sans CJK SC","fontSize":12,"color":"#999","dy":-20},"encoding":{"x":{"value":1076},"text":{"field":"t"}}}
   ]}
]
}
